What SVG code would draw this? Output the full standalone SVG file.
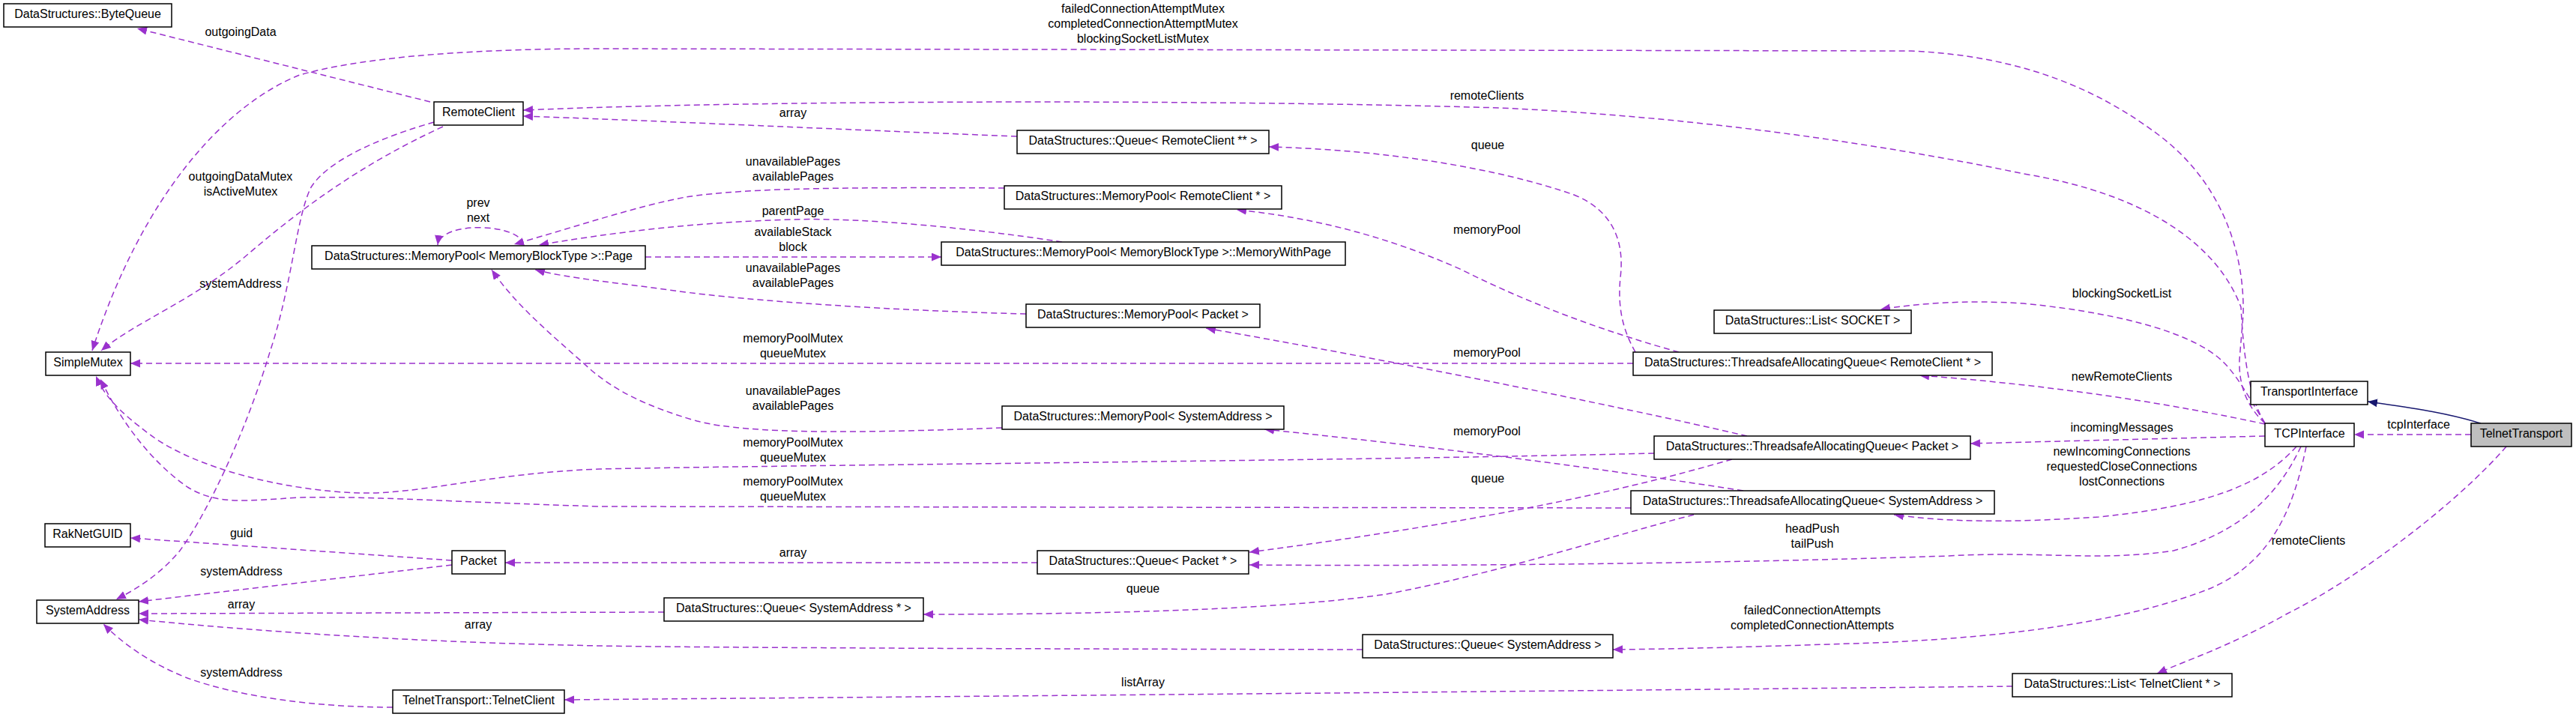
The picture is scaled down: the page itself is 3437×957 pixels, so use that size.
<svg xmlns="http://www.w3.org/2000/svg" width="3437" height="957" viewBox="0 0 3437 957">
<defs>
<style>
.n rect{fill:#fff;stroke:#000;stroke-width:1.5}
.n text{font-family:"Liberation Sans",Arial,sans-serif;font-size:16px;text-anchor:middle;fill:#000}
.e path{fill:none;stroke:#9a32cd;stroke-width:1.5;stroke-dasharray:8,5;marker-end:url(#a)}
.e path.inh{stroke:#191970;stroke-dasharray:none;marker-end:url(#b)}
.l text{font-family:"Liberation Sans",Arial,sans-serif;font-size:16px;text-anchor:middle;fill:#000}
</style>
<marker id="a" markerWidth="14" markerHeight="12" refX="13" refY="5.5" orient="auto" markerUnits="userSpaceOnUse"><path d="M0,0 L13,5.5 L0,11 z" fill="#9a32cd"/></marker>
<marker id="b" markerWidth="14" markerHeight="12" refX="13" refY="5.5" orient="auto" markerUnits="userSpaceOnUse"><path d="M0,0 L13,5.5 L0,11 z" fill="#191970"/></marker>
</defs>
<rect width="3437" height="957" fill="#fff"/>
<g id="edges" class="e">
<path d="M574,136 L183,38"/>
<path d="M591,169 C480,220 400,280 330,340 S180,430 135,468"/>
<path d="M579,163 C520,180 440,210 415,250 C395,290 390,380 360,470 C330,570 280,680 240,735 C215,765 185,785 155,800"/>
<path d="M3022,565 C2995,540 2987,510 2988,480 L2993,420 C2995,330 2960,240 2880,180 C2800,120 2700,75 2550,68 L800,65 C600,65 470,80 400,100 C300,140 190,260 123,468"/>
<path d="M3022,565 C3000,530 2993,470 2990,410 C2960,330 2870,260 2700,232 C2500,190 2250,155 2000,144 C1600,132 1000,134 698,147"/>
<path d="M1357,182 C1100,172 850,160 698,155"/>
<path d="M2182,470 C2165,440 2158,410 2162,370 C2168,320 2150,280 2100,260 C2000,225 1850,200 1693,196"/>
<path d="M2240,470 C2150,445 2050,410 1950,360 C1850,315 1750,290 1650,280"/>
<path d="M2179,485 L174,485"/>
<path d="M2207,605 C1800,615 1100,620 800,626 C650,632 560,660 480,658 C380,655 260,625 200,580 C160,550 140,530 128,502"/>
<path d="M2176,678 L800,676 C600,670 500,662 400,664 C330,668 290,675 250,650 C200,615 160,560 134,506"/>
<path d="M698,327 C696,298 588,294 584,327"/>
<path d="M1340,251 C1150,250 1000,250 915,263 C850,275 760,305 686,326"/>
<path d="M1417,323 C1300,305 1150,290 1058,293 C950,296 850,305 719,327"/>
<path d="M861,343 L1256,343"/>
<path d="M1369,419 C1200,415 1000,402 900,388 C830,378 760,372 714,360"/>
<path d="M1337,571 C1150,578 1000,580 930,562 C860,542 820,520 790,495 C740,450 690,410 656,360"/>
<path d="M2331,582 C2150,540 1850,480 1609,438"/>
<path d="M2326,655 C2100,620 1900,595 1687,573"/>
<path d="M2311,613 C2150,660 1950,700 1667,737"/>
<path d="M3070,596 C3040,660 2990,710 2900,735 C2800,750 2720,735 2600,742 C2300,752 1950,756 1667,754"/>
<path d="M3064,596 C3020,645 2950,675 2800,690 C2680,698 2600,697 2527,687"/>
<path d="M3077,596 C3060,680 3030,750 2950,785 C2850,825 2700,850 2500,858 C2350,863 2250,866 2152,867"/>
<path d="M3344,596 C3280,670 3150,770 3050,820 C2970,865 2920,880 2878,899"/>
<path d="M3297,580 L3141,580"/>
<path class="inh" d="M3310,565 C3260,550 3220,545 3159,536"/>
<path d="M3022,565 C3000,530 2985,500 2963,480 C2930,450 2850,420 2700,405 C2620,400 2560,405 2509,413"/>
<path d="M3022,566 C2900,540 2750,515 2561,501"/>
<path d="M3022,582 L2629,592"/>
<path d="M603,748 L174,718"/>
<path d="M603,754 L185,803"/>
<path d="M1384,751 L674,751"/>
<path d="M886,817 L185,819"/>
<path d="M1818,867 C1400,866 1000,865 800,862 C600,858 400,848 185,827"/>
<path d="M2260,687 C2150,715 2000,765 1850,793 C1700,815 1450,820 1232,820"/>
<path d="M524,944 C420,944 320,930 250,905 C200,885 165,860 138,833"/>
<path d="M2685,916 C2300,920 1500,928 753,934"/>
</g>
<g id="labels" class="l">
<text x="321" y="48">outgoingData</text>
<text x="321" y="241">outgoingDataMutex</text>
<text x="321" y="261">isActiveMutex</text>
<text x="321" y="384">systemAddress</text>
<text x="638" y="276">prev</text>
<text x="638" y="296">next</text>
<text x="1525" y="17">failedConnectionAttemptMutex</text>
<text x="1525" y="37">completedConnectionAttemptMutex</text>
<text x="1525" y="57">blockingSocketListMutex</text>
<text x="1058" y="156">array</text>
<text x="1058" y="221">unavailablePages</text>
<text x="1058" y="241">availablePages</text>
<text x="1058" y="287">parentPage</text>
<text x="1058" y="315">availableStack</text>
<text x="1058" y="335">block</text>
<text x="1058" y="363">unavailablePages</text>
<text x="1058" y="383">availablePages</text>
<text x="1058" y="457">memoryPoolMutex</text>
<text x="1058" y="477">queueMutex</text>
<text x="1058" y="527">unavailablePages</text>
<text x="1058" y="547">availablePages</text>
<text x="1058" y="596">memoryPoolMutex</text>
<text x="1058" y="616">queueMutex</text>
<text x="1058" y="648">memoryPoolMutex</text>
<text x="1058" y="668">queueMutex</text>
<text x="1058" y="743">array</text>
<text x="1525" y="791">queue</text>
<text x="1525" y="916">listArray</text>
<text x="1984" y="133">remoteClients</text>
<text x="1985" y="199">queue</text>
<text x="1984" y="312">memoryPool</text>
<text x="1984" y="476">memoryPool</text>
<text x="1984" y="581">memoryPool</text>
<text x="1985" y="644">queue</text>
<text x="2418" y="711">headPush</text>
<text x="2418" y="731">tailPush</text>
<text x="2418" y="820">failedConnectionAttempts</text>
<text x="2418" y="840">completedConnectionAttempts</text>
<text x="2831" y="397">blockingSocketList</text>
<text x="2831" y="508">newRemoteClients</text>
<text x="2831" y="576">incomingMessages</text>
<text x="2831" y="608">newIncomingConnections</text>
<text x="2831" y="628">requestedCloseConnections</text>
<text x="2831" y="648">lostConnections</text>
<text x="3227" y="572">tcpInterface</text>
<text x="3080" y="727">remoteClients</text>
<text x="322" y="717">guid</text>
<text x="322" y="768">systemAddress</text>
<text x="322" y="812">array</text>
<text x="638" y="839">array</text>
<text x="322" y="903">systemAddress</text>
</g>
<g id="ByteQueue" class="n"><rect x="5" y="5" width="224" height="31"/><text x="117" y="24">DataStructures::ByteQueue</text></g>
<g id="RemoteClient" class="n"><rect x="579" y="136" width="119" height="31"/><text x="638.5" y="155">RemoteClient</text></g>
<g id="SimpleMutex" class="n"><rect x="61" y="470" width="113" height="31"/><text x="117.5" y="489">SimpleMutex</text></g>
<g id="Page" class="n"><rect x="416" y="328" width="445" height="31"/><text x="638.5" y="347">DataStructures::MemoryPool&lt; MemoryBlockType &gt;::Page</text></g>
<g id="RakNetGUID" class="n"><rect x="60" y="699" width="114" height="31"/><text x="117" y="718">RakNetGUID</text></g>
<g id="SystemAddress" class="n"><rect x="49" y="801" width="136" height="31"/><text x="117" y="820">SystemAddress</text></g>
<g id="Packet" class="n"><rect x="603" y="735" width="71" height="31"/><text x="638.5" y="754">Packet</text></g>
<g id="TelnetClient" class="n"><rect x="524" y="921" width="229" height="31"/><text x="638.5" y="940">TelnetTransport::TelnetClient</text></g>
<g id="QueueRemoteClient" class="n"><rect x="1357" y="174" width="336" height="31"/><text x="1525" y="193">DataStructures::Queue&lt; RemoteClient ** &gt;</text></g>
<g id="MemoryPoolRemoteClient" class="n"><rect x="1340" y="248" width="370" height="31"/><text x="1525" y="267">DataStructures::MemoryPool&lt; RemoteClient * &gt;</text></g>
<g id="MemoryWithPage" class="n"><rect x="1256" y="323" width="539" height="31"/><text x="1525.5" y="342">DataStructures::MemoryPool&lt; MemoryBlockType &gt;::MemoryWithPage</text></g>
<g id="MemoryPoolPacket" class="n"><rect x="1369" y="406" width="312" height="31"/><text x="1525" y="425">DataStructures::MemoryPool&lt; Packet &gt;</text></g>
<g id="MemoryPoolSystemAddress" class="n"><rect x="1337" y="542" width="376" height="31"/><text x="1525" y="561">DataStructures::MemoryPool&lt; SystemAddress &gt;</text></g>
<g id="QueuePacket" class="n"><rect x="1384" y="735" width="282" height="31"/><text x="1525" y="754">DataStructures::Queue&lt; Packet * &gt;</text></g>
<g id="QueueSystemAddressPtr" class="n"><rect x="886" y="798" width="346" height="31"/><text x="1059" y="817">DataStructures::Queue&lt; SystemAddress * &gt;</text></g>
<g id="QueueSystemAddress" class="n"><rect x="1818" y="847" width="334" height="31"/><text x="1985" y="866">DataStructures::Queue&lt; SystemAddress &gt;</text></g>
<g id="ListSOCKET" class="n"><rect x="2287" y="414" width="263" height="31"/><text x="2418.5" y="433">DataStructures::List&lt; SOCKET &gt;</text></g>
<g id="TAQRemoteClient" class="n"><rect x="2179" y="470" width="479" height="31"/><text x="2418.5" y="489">DataStructures::ThreadsafeAllocatingQueue&lt; RemoteClient * &gt;</text></g>
<g id="TAQPacket" class="n"><rect x="2207" y="582" width="422" height="31"/><text x="2418" y="601">DataStructures::ThreadsafeAllocatingQueue&lt; Packet &gt;</text></g>
<g id="TAQSystemAddress" class="n"><rect x="2176" y="655" width="485" height="31"/><text x="2418.5" y="674">DataStructures::ThreadsafeAllocatingQueue&lt; SystemAddress &gt;</text></g>
<g id="TransportInterface" class="n"><rect x="3003" y="509" width="156" height="31"/><text x="3081" y="528">TransportInterface</text></g>
<g id="TCPInterface" class="n"><rect x="3022" y="565" width="119" height="31"/><text x="3081.5" y="584">TCPInterface</text></g>
<g id="TelnetTransport" class="n"><rect x="3297" y="565" width="134" height="31" style="fill:#bfbfbf"/><text x="3364" y="584">TelnetTransport</text></g>
<g id="ListTelnetClient" class="n"><rect x="2685" y="899" width="293" height="31"/><text x="2831.5" y="918">DataStructures::List&lt; TelnetClient * &gt;</text></g>
</svg>
